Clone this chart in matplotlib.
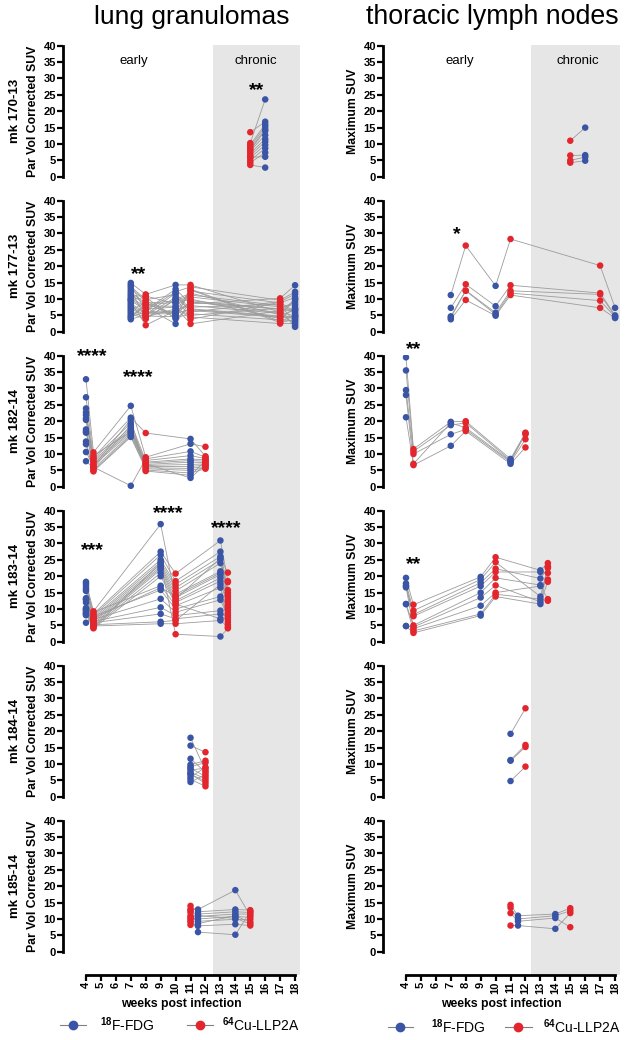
import matplotlib
matplotlib.use("Agg")
import matplotlib.pyplot as plt
from matplotlib.lines import Line2D
import matplotlib.transforms as mtransforms

plt.rcParams['font.family'] = ['Liberation Sans', 'DejaVu Sans']
plt.rcParams['font.weight'] = 'bold'
plt.rcParams['mathtext.fontset'] = 'custom'
plt.rcParams['mathtext.rm'] = 'Liberation Sans'
plt.rcParams['mathtext.it'] = 'Liberation Sans:italic'
plt.rcParams['mathtext.bf'] = 'Liberation Sans:bold'

# ---------------- data ----------------
FDG, CU = 'FDG', 'CU'
BLUE = '#3a55a6'
RED = '#e3262d'
LINE_GRAY = '#9c9c9c'
BAND_GRAY = '#e6e6e6'

animals = ['mk 170-13', 'mk 177-13', 'mk 182-14', 'mk 183-14', 'mk 184-14', 'mk 185-14']
week_ticks = list(range(4, 19))

# ---- lung granulomas (Par Vol Corrected SUV); each inner list = one scan, lesions in same order
lung170_weeks = [15, 16]
lung170_tracers = [CU, FDG]
lung170_values = [
    [10.3, 13.6, 9.8, 9.2, 8.6, 8.2, 7.9, 7.2, 6.5, 5.8, 5.0, 4.3, 3.6, 6.0],
    [23.6, 16.8, 16.0, 15.3, 14.5, 14.0, 12.7, 11.5, 10.7, 9.7, 8.7, 7.4, 2.8, 6.1],
]

lung177_weeks = [7, 8, 10, 11, 17, 18]
lung177_tracers = [FDG, CU, FDG, CU, CU, FDG]
lung177_values = [
    [14.9, 14.3, 13.8, 13.2, 12.6, 12.0, 11.5, 11.0, 10.5, 10.0, 9.5, 9.0, 8.5, 8.0, 7.5, 7.0, 6.5, 6.0, 5.5, 5.0, 4.6, 4.2, 3.8, 9.8],
    [11.4, 6.3, 9.8, 9.5, 4.2, 8.7, 8.2, 10.9, 7.5, 7.0, 6.6, 2.0, 5.9, 5.5, 5.0, 4.8, 9.0, 4.5, 3.9, 7.8, 6.0, 8.5, 5.2, 10.5],
    [14.3, 12.2, 11.3, 5.0, 9.8, 9.4, 9.0, 8.6, 2.4, 7.5, 13.0, 6.5, 6.0, 5.5, 10.5, 4.6, 4.3, 7.0, 10.0, 7.8, 6.2, 5.2, 11.8, 4.0],
    [14.3, 13.7, 6.0, 12.4, 11.8, 11.2, 10.6, 10.0, 9.5, 2.4, 8.5, 8.0, 13.0, 7.0, 6.5, 12.8, 5.5, 5.0, 4.5, 3.8, 9.0, 9.2, 6.8, 7.5],
    [6.0, 9.6, 9.2, 8.8, 5.2, 8.0, 7.6, 4.0, 6.8, 6.4, 10.2, 5.6, 3.2, 4.8, 4.4, 2.8, 3.6, 7.2, 2.5, 9.0, 7.0, 5.8, 4.6, 8.4],
    [4.8, 12.2, 11.5, 10.5, 9.8, 3.0, 8.3, 7.5, 7.0, 6.5, 14.2, 2.0, 5.0, 4.6, 4.2, 3.8, 3.4, 9.0, 2.5, 6.0, 1.5, 10.0, 6.8, 5.5],
]

lung182_weeks = [4, 4.5, 7, 8, 11, 12]
lung182_tracers = [FDG, CU, FDG, CU, FDG, CU]
lung182_values = [
    [32.8, 27.3, 23.9, 22.7, 21.9, 20.9, 20.4, 17.5, 16.9, 13.8, 13.0, 10.6, 7.8, 16.5],
    [10.5, 8.9, 6.0, 8.5, 8.0, 7.5, 7.0, 6.5, 5.5, 5.0, 4.7, 6.2, 5.8, 9.5],
    [24.7, 21.1, 0.3, 19.4, 18.2, 17.6, 17.0, 16.5, 16.0, 15.5, 15.2, 20.5, 18.8, 16.8],
    [9.0, 16.4, 8.5, 8.0, 7.5, 7.2, 6.8, 6.5, 6.2, 5.8, 5.5, 5.1, 4.8, 7.0],
    [13.1, 14.6, 10.8, 9.5, 8.5, 8.0, 7.5, 6.8, 6.2, 5.6, 5.0, 4.2, 3.5, 2.7],
    [12.2, 9.3, 9.0, 8.6, 8.2, 7.8, 7.4, 7.0, 6.6, 6.2, 5.8, 5.5, 8.0, 6.8],
]

lung183_weeks = [4, 4.5, 9, 10, 13, 13.5]
lung183_tracers = [FDG, CU, FDG, CU, FDG, CU]
lung183_values = [
    [18.3, 17.8, 17.2, 16.5, 15.5, 13.3, 12.8, 10.3, 9.8, 9.2, 8.6, 8.1, 5.8, 16.0, 12.0, 10.0, 9.5, 8.8, 8.4, 13.0],
    [9.3, 8.5, 8.0, 7.5, 7.0, 6.5, 6.0, 5.5, 5.0, 4.5, 4.1, 9.0, 7.8, 6.8, 6.2, 5.8, 5.2, 4.8, 4.3, 7.2],
    [35.9, 27.5, 26.5, 25.0, 24.3, 23.6, 23.0, 22.5, 22.0, 21.0, 20.0, 17.1, 15.8, 13.1, 10.5, 8.5, 6.1, 5.5, 24.0, 16.5],
    [13.0, 20.8, 18.5, 17.5, 16.5, 15.5, 14.5, 13.5, 12.5, 12.0, 11.5, 11.0, 10.0, 9.0, 8.0, 7.0, 6.5, 5.5, 2.3, 14.0],
    [25.5, 30.9, 27.5, 26.0, 25.0, 24.0, 21.5, 20.5, 19.5, 18.5, 7.0, 16.5, 13.8, 12.8, 9.5, 8.5, 17.5, 6.5, 1.6, 21.0],
    [21.1, 18.5, 15.8, 15.0, 14.2, 13.5, 12.8, 12.0, 11.2, 10.5, 9.8, 9.0, 8.2, 7.5, 6.8, 6.0, 5.2, 4.5, 4.1, 18.2],
]

lung184_weeks = [11, 12]
lung184_tracers = [FDG, CU]
lung184_values = [
    [18.0, 15.6, 11.6, 9.8, 9.2, 8.7, 8.2, 7.5, 6.8, 6.0, 5.3, 4.5, 7.0],
    [8.0, 13.6, 7.5, 11.0, 10.4, 6.2, 8.7, 5.5, 4.8, 9.0, 3.2, 6.8, 4.0],
]

lung185_weeks = [11, 11.5, 14, 15]
lung185_tracers = [CU, FDG, FDG, CU]
lung185_values = [
    [13.0, 14.0, 12.0, 11.0, 10.0, 9.0, 8.2, 12.5, 10.5, 9.5],
    [12.9, 12.2, 11.5, 10.8, 10.0, 9.3, 8.6, 7.9, 6.0, 11.0],
    [18.8, 12.9, 12.2, 11.5, 10.8, 9.9, 11.0, 8.4, 5.2, 10.2],
    [11.0, 12.7, 12.0, 11.5, 10.5, 9.8, 9.0, 8.0, 12.3, 8.5],
]

# ---- thoracic lymph nodes (Maximum SUV)
ln170_weeks = [15, 16]
ln170_tracers = [CU, FDG]
ln170_values = [
    [11.0, 6.5, 5.0, 4.3],
    [15.0, 6.6, 6.0, 4.9],
]

ln177_weeks = [7, 8, 10, 11, 17, 18]
ln177_tracers = [FDG, CU, FDG, CU, CU, FDG]
ln177_values = [
    [11.2, 7.3, 4.7, 4.3, 3.8],
    [26.3, 14.5, 12.6, 12.5, 9.7],
    [14.0, 7.8, 5.8, 5.3, 4.9],
    [28.3, 14.2, 12.5, 11.8, 11.2],
    [20.2, 11.8, 11.4, 9.5, 7.3],
    [7.3, 5.0, 4.7, 4.5, 4.2],
]

ln182_weeks = [4, 4.5, 7, 8, 11, 12]
ln182_tracers = [FDG, CU, FDG, CU, FDG, CU]
ln182_values = [
    [39.5, 35.5, 29.5, 28.0, 21.2],
    [11.5, 10.8, 10.0, 7.0, 6.6],
    [19.8, 18.8, 16.0, 19.5, 12.5],
    [20.0, 19.5, 17.5, 18.0, 17.0],
    [8.5, 8.0, 7.5, 7.8, 7.0],
    [16.5, 16.0, 14.5, 16.3, 12.0],
]

ln183_weeks = [4, 4.5, 9, 10, 13, 13.5]
ln183_tracers = [FDG, CU, FDG, CU, FDG, CU]
ln183_values = [
    [19.5, 17.8, 17.2, 16.6, 11.5, 4.8, 16.9, 11.5, 4.8],
    [11.3, 9.5, 8.3, 7.8, 5.0, 4.5, 4.0, 3.3, 2.7],
    [19.8, 19.0, 18.0, 17.0, 15.0, 13.5, 11.0, 8.5, 8.0],
    [25.8, 24.3, 22.3, 21.3, 19.5, 17.2, 15.0, 14.5, 13.8],
    [21.8, 13.8, 19.3, 21.3, 17.3, 12.2, 17.0, 13.0, 11.5],
    [24.0, 23.0, 22.5, 21.0, 19.0, 18.3, 13.0, 12.5, 22.8],
]

ln184_weeks = [11, 12]
ln184_tracers = [FDG, CU]
ln184_values = [
    [19.2, 11.2, 11.0, 4.8],
    [27.0, 15.8, 15.2, 9.2],
]

ln185_weeks = [11, 11.5, 14, 15]
ln185_tracers = [CU, FDG, FDG, CU]
ln185_values = [
    [14.3, 13.5, 11.8, 8.0],
    [11.0, 10.0, 9.3, 8.0],
    [11.5, 11.0, 10.3, 7.0],
    [13.3, 12.5, 7.5, 11.8],
]

# significance marks: (week, value, text)
lung_stars = [
    [(15.4, 26.2, '**')],
    [(7.5, 17.6, '**')],
    [(4.4, 39.7, '****'), (7.5, 33.3, '****')],
    [(4.4, 27.9, '***'), (9.5, 39.2, '****'), (13.4, 34.4, '****')],
    [],
    [],
]
ln_stars = [
    [],
    [(7.4, 29.7, '*')],
    [(4.5, 41.9, '**')],
    [(4.5, 23.5, '**')],
    [],
    [],
]

lung_panels = [
    (lung170_weeks, lung170_tracers, lung170_values),
    (lung177_weeks, lung177_tracers, lung177_values),
    (lung182_weeks, lung182_tracers, lung182_values),
    (lung183_weeks, lung183_tracers, lung183_values),
    (lung184_weeks, lung184_tracers, lung184_values),
    (lung185_weeks, lung185_tracers, lung185_values),
]
ln_panels = [
    (ln170_weeks, ln170_tracers, ln170_values),
    (ln177_weeks, ln177_tracers, ln177_values),
    (ln182_weeks, ln182_tracers, ln182_values),
    (ln183_weeks, ln183_tracers, ln183_values),
    (ln184_weeks, ln184_tracers, ln184_values),
    (ln185_weeks, ln185_tracers, ln185_values),
]

# ---------------- layout ----------------
W, H = 629, 1040
fig = plt.figure(figsize=(W / 100, H / 100), dpi=100)

col_left_px = [63, 383]
ax_w_px = 237
top0_px = 44.7
pitch_px = 155
band_start = [12.5, 12.35]
XLIM = (2.46, 18.33)
YLIM = (-7.0, 40.3)

color_of = {FDG: BLUE, CU: RED}


def draw_panel(ax, weeks, tracers, values):
    n = len(values[0])
    for j in range(n):
        ax.plot(weeks, [col[j] for col in values], color=LINE_GRAY, lw=0.6, zorder=2)
    for wk, tr, col in zip(weeks, tracers, values):
        ax.scatter([wk] * len(col), col, s=22, color=color_of[tr], edgecolors='none', zorder=3)


for c, (panels, stars) in enumerate([(lung_panels, lung_stars), (ln_panels, ln_stars)]):
    for i, (weeks, tracers, values) in enumerate(panels):
        top_px = top0_px + pitch_px * i
        rect = [col_left_px[c] / W, 1 - (top_px + pitch_px) / H, ax_w_px / W, pitch_px / H]
        ax = fig.add_axes(rect)
        ax.set_facecolor('none')
        ax.set_xlim(*XLIM)
        ax.set_ylim(*YLIM)
        ax.axvspan(band_start[c], XLIM[1], color=BAND_GRAY, lw=0, zorder=0)
        draw_panel(ax, weeks, tracers, values)

        for s in ['top', 'right']:
            ax.spines[s].set_visible(False)
        ax.spines['left'].set_bounds(0, 40)
        ax.spines['left'].set_linewidth(2.0)
        ax.set_yticks(range(0, 41, 5))
        ax.tick_params(axis='y', length=4, width=1.6, labelsize=8, pad=1)
        for lbl in ax.get_yticklabels():
            lbl.set_fontweight('bold')

        if i == len(panels) - 1:
            ax.spines['bottom'].set_bounds(4, 18)
            ax.spines['bottom'].set_linewidth(2.0)
            ax.set_xticks(week_ticks)
            ax.set_xticklabels([str(t) for t in week_ticks], rotation=90, fontsize=8, fontweight='bold')
            ax.tick_params(axis='x', length=4, width=1.6, pad=1)
            ax.set_xlabel('weeks post infection', fontsize=8.8, fontweight='bold', labelpad=3)
        else:
            ax.spines['bottom'].set_visible(False)
            ax.set_xticks([])

        trans = mtransforms.blended_transform_factory(ax.transAxes, ax.transData)
        if c == 0:
            ax.text(-30 / ax_w_px, 20, 'Par Vol Corrected SUV', rotation=90, transform=trans,
                    ha='center', va='center', fontsize=8.8, fontweight='bold')
            ax.text(-47.5 / ax_w_px, 20, animals[i], rotation=90, transform=trans,
                    ha='center', va='center', fontsize=9.5, fontweight='bold')
        else:
            ax.text(-30 / ax_w_px, 20, 'Maximum SUV', rotation=90, transform=trans,
                    ha='center', va='center', fontsize=8.8, fontweight='bold')

        for (wx, wy, txt) in stars[i]:
            ax.text(wx, wy, txt, ha='center', va='center', fontsize=14, fontweight='bold',
                    color='black', zorder=5)

        if i == 0:
            ax.text(7.2 if c == 0 else 7.6, 35.4, 'early', ha='center', va='center',
                    fontsize=9.5, fontweight='normal')
            ax.text(15.4 if c == 0 else 15.5, 35.4, 'chronic', ha='center', va='center',
                    fontsize=9.5, fontweight='normal')

# titles
fig.text(192 / W, 1 - 17 / H, 'lung granulomas', ha='center', va='center', fontsize=19, fontweight='normal')
fig.text(492 / W, 1 - 17 / H, 'thoracic lymph nodes', ha='center', va='center', fontsize=19.3, fontweight='normal')

# legends
def legend_entry(x0, x1, xm, xt, y, color, label):
    yf = 1 - y / H
    fig.add_artist(Line2D([x0 / W, x1 / W], [yf, yf], transform=fig.transFigure, color='#808080', lw=0.8))
    fig.add_artist(Line2D([xm / W], [yf], transform=fig.transFigure, marker='o', ms=6,
                          color=color, mec=color, lw=0))
    fig.text(xt / W, yf, label, ha='left', va='center', fontsize=10, fontweight='normal')

legend_entry(60, 86, 73, 100, 1025, BLUE, r'$^{\mathrm{18}}$F-FDG')
legend_entry(187, 213, 200, 222, 1025, RED, r'$^{\mathrm{64}}$Cu-LLP2A')
legend_entry(388, 413, 400, 431, 1027, BLUE, r'$^{\mathrm{18}}$F-FDG')
legend_entry(505, 532, 518, 543, 1027, RED, r'$^{\mathrm{64}}$Cu-LLP2A')

fig.savefig('out.png', dpi=100)
